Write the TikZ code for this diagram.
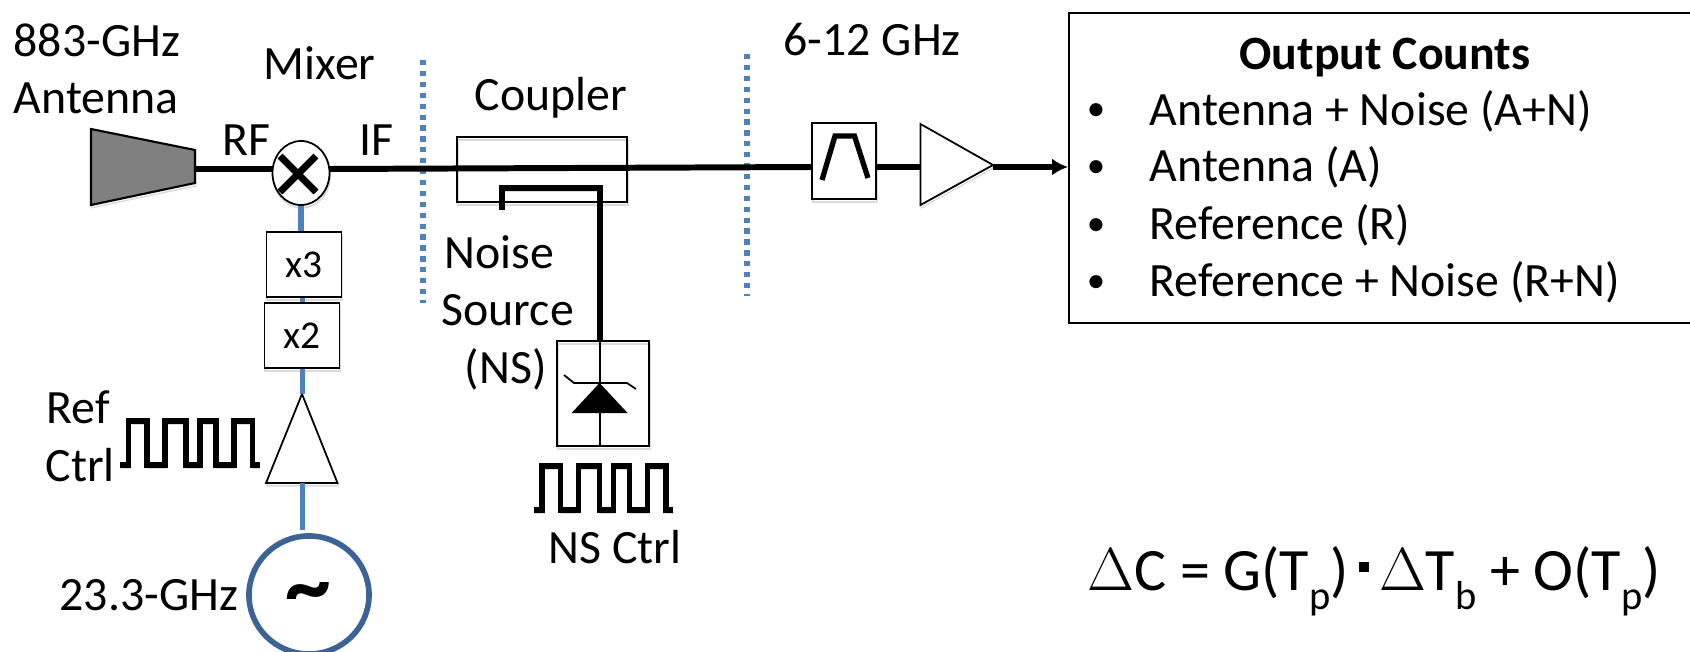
\documentclass[tikz,border=0pt]{standalone}
\usepackage{fontspec}
\setmainfont{Carlito}
\usepackage{xcolor}
\usetikzlibrary{shapes.geometric}
\usetikzlibrary{arrows.meta}
\definecolor{lineblue}{HTML}{4F81BD}
\definecolor{circleblue}{HTML}{3B6396}
\newcommand{\lowsub}[1]{\raisebox{-0.33em}{\fontsize{11.5}{12}\selectfont #1}}
\begin{document}
\begin{tikzpicture}[
	x=0.01cm, y=-0.01cm,
	soft shadow/.style={preaction={draw=black!14,transform canvas={shift={(0.2pt,-0.8pt)}}}},
	lbl/.style={font=\fontsize{13.6}{16}\selectfont, inner sep=0pt, anchor=base west},
	bullet lbl/.style={font=\fontsize{10.5}{12}\selectfont, inner sep=0pt, anchor=base},
	thin box/.style={draw, rectangle, line width=0.5pt, inner sep=0pt, soft shadow},
	mult box/.style={thin box, fill=white, minimum width=0.75cm, minimum height=0.65cm, font=\fontsize{11.2}{13}\selectfont},
	main line/.style={line width=1.7pt, soft shadow},
	blue line/.style={line width=1.7pt, draw=lineblue},
	split line/.style={line width=1.6pt, draw=lineblue, dash pattern=on 1.5pt off 1.6pt},
	pulse line/.style={line width=1.6pt, soft shadow},
	normal line/.style={-{Latex[length=4.5pt,width=4.8pt]}}
	]
\clip (0,0) rectangle (1690,651);
% front end
\draw[thin box, fill=black!50, line width=0.6pt] (91,129) -- (195,150) -- (195,183) -- (91,205) -- cycle;
\coordinate (ant out) at (195,169);
\node[thin box, ellipse, fill=white, minimum width=0.57cm, minimum height=0.64cm] (mixer) at (301,173) {};
\draw[line width=2pt] (280,156) -- (316,192) (316,156) -- (280,192);
\coordinate (rf in) at (273,169);
\coordinate (if out) at (329,169);
\path[main line] (ant out) edge (rf in);
% local oscillator chain
\node[mult box] (x3) at (304,264.5) {x3};
\node[mult box] (x2) at (302,335.5) {x2};
\draw[thin box, fill=white] (302,394) -- (337.5,483) -- (266,483) -- cycle;
\coordinate (ref top) at (302.5,394);
\coordinate (ref base) at (302.5,483);
\coordinate (lo top) at (302.5,530);
\node[ellipse, draw=circleblue, line width=1.6pt, minimum width=1.2cm, minimum height=1.18cm, inner sep=0pt] (lo) at (309,595) {};
\node[font=\fontsize{26}{30}\selectfont\bfseries, inner sep=0pt] (tilde) at (308.5,600) {\char`\~};
\path[blue line] (mixer.south) edge (x3.north -| mixer.south);
\path[blue line] (x3.south -| ref top) edge (x2.north -| ref top);
\path[blue line] (x2.south -| ref top) edge (ref top);
\path[blue line] (ref base) edge (lo top);
% domain boundaries
\coordinate (split a top) at (423,60);
\coordinate (split a bot) at (423,303);
\coordinate (split b top) at (747,54);
\coordinate (split b bot) at (747,296);
\path[split line] (split a top) edge (split a bot);
\path[split line] (split b top) edge (split b bot);
% coupler and noise source
\node[thin box, minimum width=1.7cm, minimum height=0.65cm] (coupler) at (542,169.5) {};
\node[thin box, minimum width=0.92cm, minimum height=1.05cm] (diode) at (603,393.5) {};
\coordinate (cpl end) at (502,210);
\coordinate (cpl corner) at (600,188);
\coordinate (diode in) at (600,341);
\coordinate (diode out) at (600,446);
\draw[main line] (cpl end) |- (cpl corner) -- (diode in);
\path[line width=0.6pt] (diode in) edge (diode out);
\fill (571.6,413) -- (627.6,413) -- (599.6,383) -- cycle;
\draw[line width=0.5pt] (564,375) -- (574,383) -- (627,383) -- (636,389);
% back end
\node[thin box, fill=white, minimum width=0.64cm, minimum height=0.76cm] (filter) at (844,161) {};
\draw[line width=1.5pt] (822,180) -- (835,136) -- (854.5,136) -- (868,178);
\draw[thin box, fill=white] (920.5,124) -- (993,165) -- (920.5,205) -- cycle;
\coordinate (amp in) at (920.5,167);
\coordinate (amp out) at (993,167);
\coordinate (filter in) at (812,167);
\coordinate (filter out) at (876,167);
\path[main line] (if out) edge (filter in);
\path[main line] (filter out) edge (amp in);
\node[draw, line width=0.7pt, inner sep=0pt, anchor=north west, minimum width=6.4cm, minimum height=3.1cm] (counts) at (1068,11.5) {};
\path[main line] (amp out) edge[normal line] (amp out -| counts.west);
% labels
\node[lbl] (lbl ant a) at (13,56) {883-GHz};
\node[lbl] (lbl ant b) at (13,113) {Antenna};
\node[lbl] (lbl mixer) at (263,79) {Mixer};
\node[lbl] (lbl rf) at (222,155) {RF};
\node[lbl] (lbl if) at (359,155) {IF};
\node[lbl] (lbl coupler) at (474,110) {Coupler};
\node[lbl] (lbl band) at (783,55) {6-12 GHz};
\node[lbl] (lbl ns a) at (444,268) {Noise};
\node[lbl] (lbl ns b) at (441,325) {Source};
\node[lbl] (lbl ns c) at (464,383) {(NS)};
\node[lbl] (lbl nsctrl) at (548,563) {NS Ctrl};
\node[lbl] (lbl ref a) at (46,423) {Ref};
\node[lbl] (lbl ref b) at (45,481) {Ctrl};
\node[lbl] (lbl lo) at (59,610) {23.3-GHz};
% control pulses
\draw[pulse line, shift={(120,421)}] (0,44) -- (8.5,44) -- (8.5,0) -- (27,0) -- (27,44) -- (45,44) -- (45,0) -- (66,0) -- (66,44) -- (80,44) -- (80,0) -- (96,0) -- (96,44) -- (114,44) -- (114,0) -- (132.5,0) -- (132.5,44) -- (139.5,44);
\draw[pulse line, shift={(533.5,466)}] (0,44) -- (8.5,44) -- (8.5,0) -- (27,0) -- (27,44) -- (45,44) -- (45,0) -- (66,0) -- (66,44) -- (80,44) -- (80,0) -- (96,0) -- (96,44) -- (114,44) -- (114,0) -- (132.5,0) -- (132.5,44) -- (139.5,44);
% output list
\node[lbl, font=\fontsize{13.6}{16}\selectfont\bfseries, anchor=base] (title) at (1385,69) {Output Counts};
\node[bullet lbl] (bul a) at (1096,120.5) {•};
\node[bullet lbl] (bul b) at (1096,177.5) {•};
\node[bullet lbl] (bul c) at (1096,235) {•};
\node[bullet lbl] (bul d) at (1096,292.5) {•};
\node[lbl] (item a) at (1149,125) {Antenna + Noise (A+N)};
\node[lbl] (item b) at (1149,181) {Antenna (A)};
\node[lbl] (item c) at (1149,239) {Reference (R)};
\node[lbl] (item d) at (1149,296) {Reference + Noise (R+N)};
\node[lbl, font=\fontsize{17.1}{20}\selectfont] (gain) at (1087,590) {$\Delta$C = G(T\lowsub{p})\,\rule[0.3em]{0.17em}{0.17em}\,$\Delta$T\lowsub{b} + O(T\lowsub{p})};
\end{tikzpicture}
\end{document}
